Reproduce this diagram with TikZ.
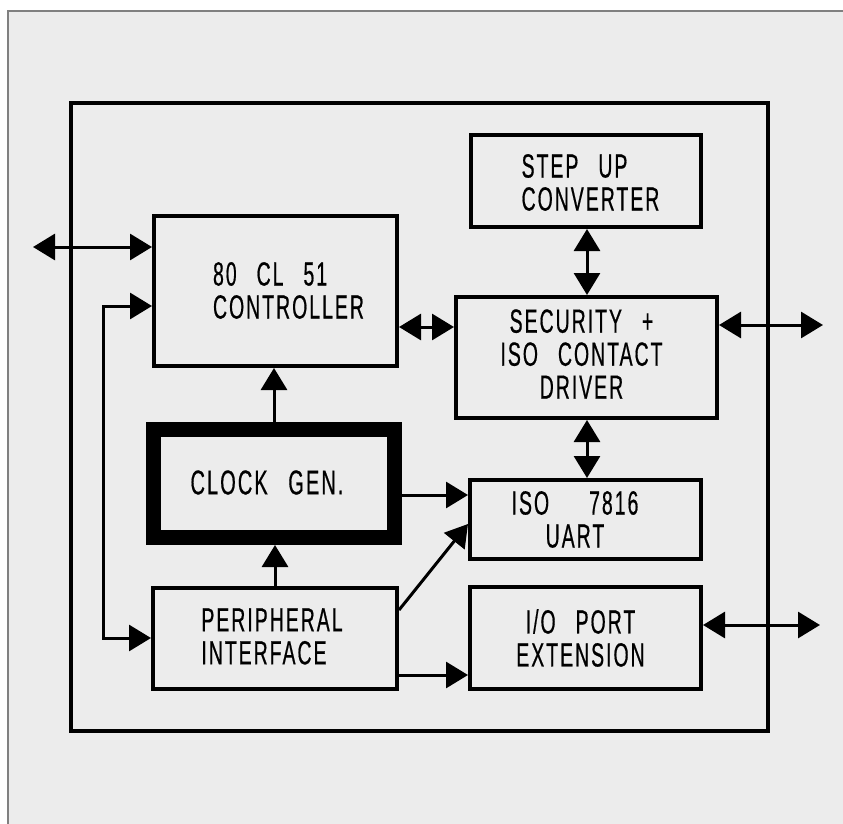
\documentclass[tikz,border=0pt]{standalone}
\usepackage{fontspec}
\setmainfont{Liberation Sans}[FakeStretch=0.58,LetterSpace=6,WordSpace=2.7,FakeBold=0.5]
\usetikzlibrary{arrows.meta}
\definecolor{paper}{RGB}{236,236,236}
\begin{document}
\begin{tikzpicture}[x=1pt,y=-1pt,
  box/.style={draw,line width=4pt,inner sep=0pt},
  lbl/.style={inner sep=0pt,font=\fontsize{33.5}{33}\selectfont},
  conn/.style={line width=3pt,-{Triangle[length=22pt,width=26pt]}},
  dconn/.style={line width=3pt,{Triangle[length=22pt,width=26pt]}-{Triangle[length=22pt,width=26pt]}}]
\useasboundingbox (0,0) rectangle (843,824);
\fill[white] (0,0) rectangle (843,824);
\fill[paper] (8,11) rectangle (843,824);
\draw[gray,line width=1.2pt] (8,824) -- (8,11) -- (843,11);

% outer frame
\node[box,minimum width=697pt,minimum height=628pt] (outer) at (419.5,417) {};

% blocks
\node[box,minimum width=230pt,minimum height=92pt]  (step)   at (586,181) {};
\node[box,minimum width=243pt,minimum height=150pt] (ctrl)   at (275.5,291) {};
\node[box,minimum width=261pt,minimum height=121pt] (sec)    at (586.5,357.5) {};
\node[draw,line width=15pt,inner sep=0pt,minimum width=241pt,minimum height=108pt] (clock) at (274,483.5) {};
\node[box,minimum width=231pt,minimum height=79pt]  (uart)   at (585.5,519.5) {};
\node[box,minimum width=244pt,minimum height=101pt] (periph) at (275,638.5) {};
\node[box,minimum width=231pt,minimum height=102pt] (io)     at (585.5,638) {};

% texts
\node[lbl,align=left]   (stept)   at (590.5,182.5) {STEP UP\\CONVERTER};
\node[lbl,align=left]   (ctrlt)   at (288.5,290.5) {80 CL 51\\CONTROLLER};
\node[lbl,align=center] (sect)    at (581.5,354) {SECURITY +\\ISO CONTACT\\DRIVER};
\node[lbl,font=\fontsize{34.5}{34}\selectfont] (clockt) at (267,482.5) {CLOCK GEN.};
\node[lbl,align=center] (uartt)   at (575,519.5) {ISO\ \ 7816\\UART};
\node[lbl,align=left]   (peripht) at (272,636.5) {PERIPHERAL\\INTERFACE};
\node[lbl,align=center] (iot)     at (580.5,638) {I/O PORT\\EXTENSION};

% helper coordinates
\coordinate (extL)  at (33,247);
\coordinate (loopA) at (103,306);
\coordinate (loopB) at (103,638);
\coordinate (hA)    at (430,327);
\coordinate (vA)    at (587,260);
\coordinate (extR1) at (823,325);
\coordinate (hB)    at (430,495);
\coordinate (dA)    at (0,610);
\coordinate (dB)    at (0,524);
\coordinate (hC)    at (430,675);
\coordinate (extR2) at (820,625);

% connectors
\draw[dconn] (extL) -- (ctrl.west |- extL);
\draw[dconn] (ctrl.west |- loopA) -- (loopA) -- (loopB) -- (periph.west |- loopB);
\draw[dconn] (ctrl.east |- hA) -- (sec.west |- hA);
\draw[dconn] (step.south -| vA) -- (sec.north -| vA);
\draw[dconn] (sec.east |- extR1) -- (extR1);
\draw[conn]  (clock.north) -- (clock.north |- ctrl.south);
\draw[conn]  (periph.north) -- (periph.north |- clock.south);
\draw[conn]  (clock.east |- hB) -- (uart.west |- hB);
\draw[conn]  (periph.east |- dA) -- (uart.west |- dB);
\draw[conn]  (periph.east |- hC) -- (io.west |- hC);
\draw[dconn] (sec.south -| vA) -- (uart.north -| vA);
\draw[dconn] (io.east |- extR2) -- (extR2);
\end{tikzpicture}
\end{document}
